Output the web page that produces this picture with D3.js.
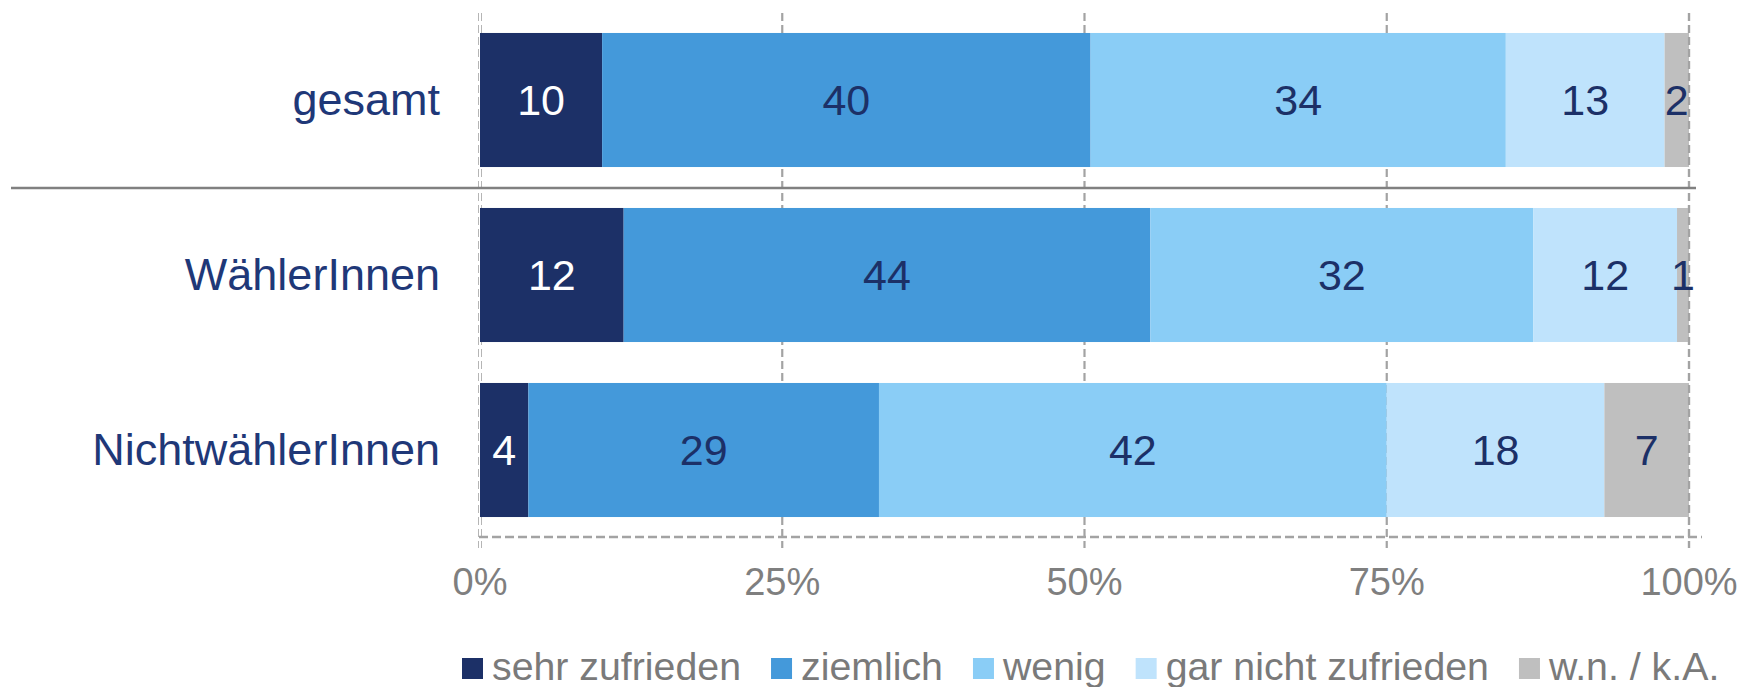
<!DOCTYPE html>
<html>
<head>
<meta charset="utf-8">
<script src="https://cdn.jsdelivr.net/npm/d3@7/dist/d3.min.js"></script>
<style>
  html, body { margin: 0; padding: 0; background: #fff; }
  svg { display: block; font-family: "Liberation Sans", Arial, sans-serif; }
</style>
</head>
<body>
<svg id="chart" width="1739" height="687"></svg>
<script>
const categories = ["gesamt", "WählerInnen", "NichtwählerInnen"];
const seriesNames = ["sehr zufrieden", "ziemlich", "wenig", "gar nicht zufrieden", "w.n. / k.A."];
const sehrZufrieden = [10, 12, 4];
const ziemlich = [40, 44, 29];
const wenig = [34, 32, 42];
const garNicht = [13, 12, 18];
const wnka = [2, 1, 7];
const tickValues = [0, 0.25, 0.5, 0.75, 1];
const tickLabels = ["0%", "25%", "50%", "75%", "100%"];

const colors = ["#1c3067", "#4499da", "#8acdf6", "#bfe3fc", "#bfbfbf"];
const labelColors = ["#ffffff", "#1c3067", "#1c3067", "#1c3067", "#1c3067"];

const seriesValues = [sehrZufrieden, ziemlich, wenig, garNicht, wnka];
const table = categories.map((c, i) => {
  const row = { cat: c };
  seriesNames.forEach((s, j) => row[s] = seriesValues[j][i]);
  return row;
});

const svg = d3.select("#chart");
const x = d3.scaleLinear().domain([0, 1]).range([480, 1689]);
const y = d3.scaleBand().domain(categories).range([12.5, 537.5])
  .paddingInner(0.234).paddingOuter(0.117);

const stack = d3.stack().keys(seriesNames).offset(d3.stackOffsetExpand);
const stacked = stack(table);

// gridlines (behind bars)
const grid = svg.append("g");
tickValues.forEach((t, i) => {
  if (i === 0) return;
  grid.append("line")
    .attr("x1", x(t)).attr("x2", x(t))
    .attr("y1", 13).attr("y2", 548)
    .attr("stroke", "#a3a3a3").attr("stroke-width", 2.2)
    .attr("stroke-dasharray", "8,4");
});
// zero line: double thin dashed
[478.5, 481.5].forEach(xx => {
  grid.append("line")
    .attr("x1", xx).attr("x2", xx)
    .attr("y1", 13).attr("y2", 548)
    .attr("stroke", "#b5b5b5").attr("stroke-width", 1)
    .attr("stroke-dasharray", "8,4");
});
// bottom dashed axis line
grid.append("line")
  .attr("x1", 479).attr("x2", 1702)
  .attr("y1", 537).attr("y2", 537)
  .attr("stroke", "#a3a3a3").attr("stroke-width", 2.4)
  .attr("stroke-dasharray", "9,4");

// bars
const layers = svg.append("g").selectAll("g").data(stacked).join("g")
  .attr("fill", (d, i) => colors[i]);
layers.selectAll("rect").data(d => d.map(v => ({ v, cat: v.data.cat }))).join("rect")
  .attr("x", d => x(d.v[0]))
  .attr("width", d => x(d.v[1]) - x(d.v[0]))
  .attr("y", d => y(d.cat))
  .attr("height", y.bandwidth());

// 100% gridline on top
svg.append("line")
  .attr("x1", x(1)).attr("x2", x(1))
  .attr("y1", 13).attr("y2", 548)
  .attr("stroke", "#a3a3a3").attr("stroke-width", 2.2)
  .attr("stroke-dasharray", "8,4");

// data labels
stacked.forEach((layer, i) => {
  svg.append("g").selectAll("text").data(layer).join("text")
    .attr("x", d => (x(d[0]) + x(d[1])) / 2)
    .attr("y", d => y(d.data.cat) + y.bandwidth() / 2)
    .attr("dy", "0.36em")
    .attr("text-anchor", "middle")
    .attr("font-size", 43)
    .attr("fill", labelColors[i])
    .text(d => d.data[seriesNames[i]]);
});

// separator line
svg.append("line")
  .attr("x1", 11).attr("x2", 1696)
  .attr("y1", 188).attr("y2", 188)
  .attr("stroke", "#808080").attr("stroke-width", 2.5);

// category labels
svg.append("g").selectAll("text").data(categories).join("text")
  .attr("x", 440)
  .attr("y", d => y(d) + y.bandwidth() / 2)
  .attr("dy", "0.34em")
  .attr("text-anchor", "end")
  .attr("font-size", 45)
  .attr("fill", "#1f3878")
  .text(d => d);

// x-axis tick labels
svg.append("g").selectAll("text").data(tickValues).join("text")
  .attr("x", d => x(d))
  .attr("y", 595)
  .attr("text-anchor", "middle")
  .attr("font-size", 38)
  .attr("fill", "#7f7f7f")
  .text((d, i) => tickLabels[i]);

// legend
const legend = svg.append("g");
let lx = 462;
seriesNames.forEach((s, i) => {
  legend.append("rect")
    .attr("x", lx).attr("y", 658).attr("width", 21).attr("height", 21)
    .attr("fill", colors[i]);
  const t = legend.append("text")
    .attr("x", lx + 30).attr("y", 680)
    .attr("font-size", 39.3)
    .attr("fill", "#7a7a7a")
    .text(s);
  lx = lx + 30 + t.node().getComputedTextLength() + 30;
});
</script>
</body>
</html>
